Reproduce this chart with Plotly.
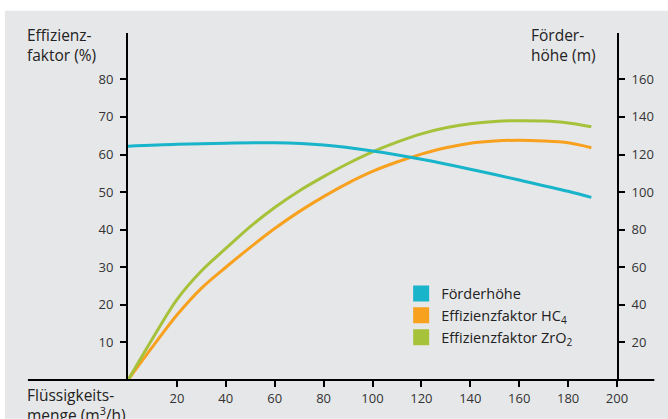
import plotly.graph_objects as go

# Flow rate (m³/h) and efficiency factors (%)
flow_eff = [0, 10, 20, 30, 40, 50, 60, 70, 80, 90, 100, 110, 120, 130, 140, 150,
            160, 170, 180, 189.5]
eff_hc4 = [0, 8.8, 17.3, 24.4, 30.0, 35.3, 40.3, 44.8, 48.8, 52.4, 55.5, 58.0,
           60.1, 61.8, 63.0, 63.6, 63.8, 63.6, 63.1, 61.8]
eff_zro2 = [0, 11.0, 21.4, 29.0, 35.0, 40.8, 45.9, 50.3, 54.1, 57.6, 60.7, 63.3,
            65.5, 67.1, 68.2, 68.8, 69.0, 68.9, 68.4, 67.4]

# Flow rate (m³/h) and delivery head (m)
flow_head = [0, 20, 40, 60, 80, 100, 120, 140, 160, 180, 189.5]
head_m = [124.4, 125.4, 126.0, 126.2, 125.0, 121.9, 117.5, 112.2, 106.4, 100.4, 97.2]

x_ticks = [20, 40, 60, 80, 100, 120, 140, 160, 180, 200]
eff_ticks = [10, 20, 30, 40, 50, 60, 70, 80]
head_ticks = [20, 40, 60, 80, 100, 120, 140, 160]

BLUE = "#17b4ca"
ORANGE = "#f7a11f"
GREEN = "#a6c13a"
BG = "#e6e7e9"
FONT = "Open Sans"

W, H = 668, 419
L, R, T, B = 128, 51.3, 33, 37
pw, ph = W - L - R, H - T - B


def px(xp):
    return (xp - L) / pw


def py(yp):
    return (H - B - yp) / ph


fig = go.Figure()

line_style = dict(width=3, shape="spline", smoothing=0.9)
fig.add_trace(go.Scatter(x=flow_head, y=head_m, mode="lines", yaxis="y2",
                         line=dict(color=BLUE, **line_style),
                         showlegend=False, hoverinfo="skip"))
fig.add_trace(go.Scatter(x=flow_eff, y=eff_hc4, mode="lines",
                         line=dict(color=ORANGE, **line_style),
                         showlegend=False, hoverinfo="skip"))
fig.add_trace(go.Scatter(x=flow_eff, y=eff_zro2, mode="lines",
                         line=dict(color=GREEN, **line_style),
                         showlegend=False, hoverinfo="skip"))

# legend entries as square swatches
for name, col in [("Förderhöhe", BLUE),
                  ("Effizienzfaktor HC<sub>4</sub>", ORANGE),
                  ("Effizienzfaktor ZrO<sub>2</sub>", GREEN)]:
    fig.add_trace(go.Scatter(x=[None], y=[None], mode="markers", name=name,
                             marker=dict(symbol="square", size=16, color=col)))

tickfont = dict(family=FONT, size=13, color="#333333")

fig.update_layout(
    width=W, height=H,
    margin=dict(l=L, r=R, t=T, b=B, pad=0),
    paper_bgcolor="white",
    plot_bgcolor="rgba(0,0,0,0)",
    font=dict(family=FONT, color="#222222"),
    xaxis=dict(range=[0, 200], tickvals=x_ticks, ticks="outside", ticklen=6,
               tickwidth=2, tickcolor="black", showgrid=False, zeroline=False,
               showline=False, tickfont=tickfont, fixedrange=True),
    yaxis=dict(range=[0, ph / 37.8 * 10], tickvals=eff_ticks, ticks="outside",
               ticklen=6, tickwidth=2, tickcolor="black", showgrid=False,
               zeroline=False, showline=True, linecolor="black", linewidth=2,
               tickfont=tickfont, ticklabelstandoff=4),
    yaxis2=dict(range=[0, ph / 37.8 * 20], tickvals=head_ticks, ticks="outside",
                ticklen=6, tickwidth=2, tickcolor="black", showgrid=False,
                zeroline=False, showline=True, linecolor="black", linewidth=2,
                overlaying="y", side="right", tickfont=tickfont,
                ticklabelstandoff=4),
    legend=dict(x=px(401), y=py(279), xanchor="left", yanchor="top",
                bgcolor="rgba(0,0,0,0)", font=dict(family=FONT, size=14.5, color="#222222"),
                tracegroupgap=0, itemsizing="trace"),
    showlegend=True,
)

# grey panel behind the chart
fig.add_shape(type="rect", xref="paper", yref="paper", layer="below",
              x0=px(5), x1=px(W + 2), y0=py(10.5), y1=py(H + 2),
              fillcolor=BG, line=dict(width=0))
# horizontal axis line running past both vertical axes
fig.add_shape(type="line", xref="paper", yref="paper",
              x0=px(28), x1=px(654), y0=0, y1=0,
              line=dict(color="black", width=2))

title_font = dict(family=FONT, size=15.5, color="#222222")
fig.add_annotation(xref="paper", yref="paper", x=px(25), y=py(22),
                   xanchor="left", yanchor="top", align="left", showarrow=False,
                   text="Effizienz-<br>faktor (%)", font=title_font)
fig.add_annotation(xref="paper", yref="paper", x=px(598), y=py(22),
                   xanchor="right", yanchor="top", align="left", showarrow=False,
                   text="Förder-<br>höhe (m)", font=title_font)
fig.add_annotation(xref="paper", yref="paper", x=px(25), y=py(384),
                   xanchor="left", yanchor="top", align="left", showarrow=False,
                   text="Flüssigkeits-<br>menge (m<sup>3</sup>/h)", font=title_font)

fig.write_html("out.html")
